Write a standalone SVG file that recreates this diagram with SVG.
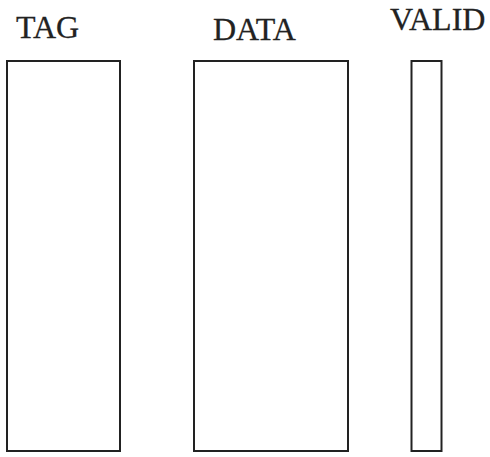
<svg xmlns="http://www.w3.org/2000/svg" width="490" height="457" viewBox="0 0 490 457">
<style>
.box{fill:#fff;stroke:#222;stroke-width:2}
.lbl{font-family:"Liberation Serif","Times New Roman",serif;font-size:32px;fill:#222;stroke:#222;stroke-width:0.3}
</style>
<rect width="490" height="457" fill="#fff"/>
<g id="tag">
<rect class="box" x="7" y="61" width="113" height="390"/>
<text class="lbl" x="16" y="37.5">TAG</text>
</g>
<g id="data">
<rect class="box" x="194" y="61" width="154" height="390"/>
<text class="lbl" x="213" y="39.5">DATA</text>
</g>
<g id="valid">
<rect class="box" x="411.5" y="61" width="30" height="390"/>
<text class="lbl" x="390" y="29.5">VALID</text>
</g>
<g id="connectors"/>
</svg>
